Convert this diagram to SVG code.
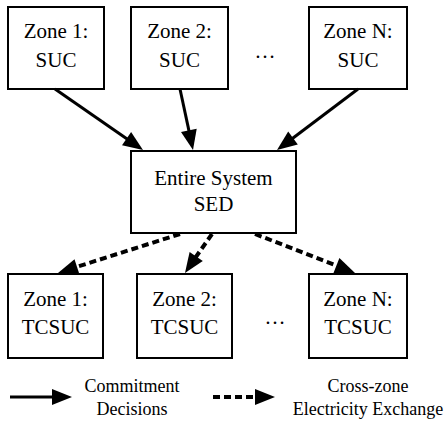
<svg xmlns="http://www.w3.org/2000/svg" width="445" height="426" viewBox="0 0 445 426">
  <style>
    text { font-family: "Liberation Serif", "Times New Roman", "DejaVu Serif", serif; fill: #000000; text-anchor: middle; }
    .box { fill: #ffffff; stroke: #000000; stroke-width: 2; }
    .lbl { font-size: 21px; }
    .leg { font-size: 18px; }
    .solid { stroke: #000000; stroke-width: 3; fill: none; }
    .dash { stroke: #000000; stroke-width: 4; fill: none; stroke-dasharray: 7 4; }
    .head { fill: #000000; stroke: none; }
  </style>

  <rect width="445" height="426" fill="#ffffff"/>

  <!-- top row: zone scheduling -->
  <g id="suc1">
    <rect class="box" x="8" y="7" width="96" height="82"/>
    <text class="lbl" x="56" y="38">Zone 1:</text>
    <text class="lbl" x="56" y="67">SUC</text>
  </g>
  <g id="suc2">
    <rect class="box" x="131" y="7" width="97" height="82"/>
    <text class="lbl" x="179.5" y="38">Zone 2:</text>
    <text class="lbl" x="179.5" y="67">SUC</text>
  </g>
  <g id="dots-top">
    <text class="lbl" x="265" y="58">…</text>
  </g>
  <g id="sucN">
    <rect class="box" x="309" y="7" width="98" height="82"/>
    <text class="lbl" x="358" y="38">Zone N:</text>
    <text class="lbl" x="358" y="67">SUC</text>
  </g>

  <!-- central dispatch -->
  <g id="sed">
    <rect class="box" x="131" y="151" width="165" height="82"/>
    <text class="lbl" x="213.5" y="185">Entire System</text>
    <text class="lbl" x="213.5" y="211">SED</text>
  </g>

  <!-- bottom row -->
  <g id="tcsuc1">
    <rect class="box" x="8" y="274" width="95" height="84"/>
    <text class="lbl" x="55.5" y="306">Zone 1:</text>
    <text class="lbl" x="55.5" y="334">TCSUC</text>
  </g>
  <g id="tcsuc2">
    <rect class="box" x="137" y="274" width="95" height="84"/>
    <text class="lbl" x="184.5" y="306">Zone 2:</text>
    <text class="lbl" x="184.5" y="334">TCSUC</text>
  </g>
  <g id="dots-bottom">
    <text class="lbl" x="275" y="324">…</text>
  </g>
  <g id="tcsucN">
    <rect class="box" x="309" y="274" width="98" height="84"/>
    <text class="lbl" x="358" y="306">Zone N:</text>
    <text class="lbl" x="358" y="334">TCSUC</text>
  </g>

  <!-- connectors: shaft plus a 20 px filled head -->
  <g id="connectors">
    <line class="solid" x1="55" y1="89" x2="128.2" y2="139.7"/>
    <polygon class="head" points="143,150 122.0,145.2 131.1,132.0"/>
    <line class="solid" x1="180" y1="89" x2="189.3" y2="132.4"/>
    <polygon class="head" points="193,150 181.0,132.1 196.7,128.8"/>
    <line class="solid" x1="358" y1="89" x2="291.4" y2="139.2"/>
    <polygon class="head" points="277,150 288.2,131.6 297.8,144.4"/>

    <line class="dash" x1="180" y1="234" x2="75.1" y2="267.4"/>
    <polygon class="head" points="58,273 74.5,259.2 79.5,274.4"/>
    <line class="dash" x1="212" y1="234" x2="195.1" y2="258.1"/>
    <polygon class="head" points="185,273 189.6,252.0 202.8,260.9"/>
    <line class="dash" x1="255" y1="234" x2="338.3" y2="266.3"/>
    <polygon class="head" points="355,273 333.5,273.0 339.4,258.1"/>
  </g>

  <!-- legend -->
  <g id="legend">
    <line class="solid" x1="10" y1="397" x2="54" y2="397"/>
    <polygon class="head" points="72,397 52,389 52,405"/>
    <text class="leg" x="132" y="392">Commitment</text>
    <text class="leg" x="132" y="415">Decisions</text>
    <line class="dash" x1="213" y1="397" x2="256" y2="397"/>
    <polygon class="head" points="275,397 255,389 255,405"/>
    <text class="leg" x="368" y="392">Cross-zone</text>
    <text class="leg" x="368" y="415">Electricity Exchange</text>
  </g>
</svg>
